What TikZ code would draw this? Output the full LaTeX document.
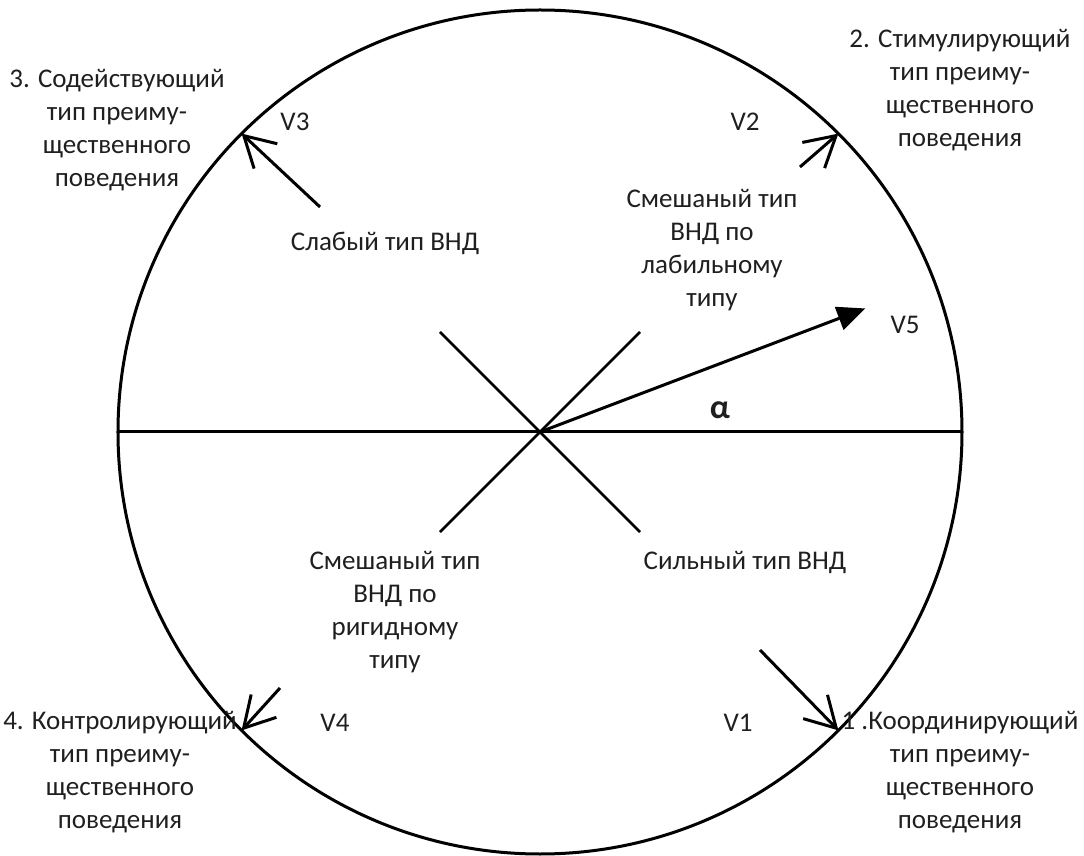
\documentclass[tikz,border=0pt]{standalone}
\usepackage{fontspec}
\setmainfont{Carlito}
\usetikzlibrary{positioning,calc,arrows.meta}

\tikzset{
  lbl/.style={align=center, inner sep=0pt, text=black!88, font=\fontsize{27}{33}\selectfont},
  vect/.style={line width=3pt, -{Straight Barb[length=30pt,width=34pt]}},
}

\begin{document}
\begin{tikzpicture}[x=1pt,y=1pt]
   \useasboundingbox (-540,-424) rectangle (544,432);
   \coordinate (centre) at (0,0);
   % circle and axis
   \draw[line width=3pt] (centre) circle (422);
   \coordinate (west) at (-422,0);
   \coordinate (east) at (422,0);
   \draw[line width=3pt] (west) -- (east);
   % cross
   \coordinate (nw) at (-100,100);
   \coordinate (se) at (100,-100);
   \coordinate (ne) at (100,100);
   \coordinate (sw) at (-100,-100);
   \draw[line width=2.6pt] (nw) -- (se);
   \draw[line width=2.6pt] (ne) -- (sw);
   % vectors
   \coordinate (v3start) at (-220,225);
   \coordinate (v3end) at (135:422);
   \coordinate (v2start) at (260,265);
   \coordinate (v2end) at (45:422);
   \coordinate (v1start) at (220,-218);
   \coordinate (v1end) at (-45:422);
   \coordinate (v4start) at (-260,-256);
   \coordinate (v4end) at (-135:422);
   \coordinate (v5end) at (20.8:348);
   \draw[vect] (v3start) -- (v3end);
   \draw[vect] (v2start) -- (v2end);
   \draw[vect] (v1start) -- (v1end);
   \draw[vect] (v4start) -- (v4end);
   \draw[line width=3pt, -{Triangle[length=28pt,width=24pt]}] (centre) -- (v5end);
   % labels
   \node[lbl] (v3) at (-245,310) {V3};
   \node[lbl] (v2) at (205,310) {V2};
   \node[lbl] (v4) at (-205,-291) {V4};
   \node[lbl] (v1) at (198,-291) {V1};
   \node[lbl] (v5) at (365,107) {V5};
   \node[lbl, font=\fontsize{34}{34}\selectfont\bfseries] (alpha) at (180,22) {α};
   \node[lbl] (weak) at (-155,189) {Слабый тип ВНД};
   \node[lbl] (labile) at (172,182) {Смешаный тип\\ВНД по\\лабильному\\типу};
   \node[lbl] (strong) at (205,-130) {Сильный тип ВНД};
   \node[lbl] (rigid) at (-145,-180) {Смешаный тип\\ВНД по\\ригидному\\типу};
   % types of behaviour
   \node[lbl] (assist) at (-423,302) {3. Содействующий\\тип преиму-\\щественного\\поведения};
   \node[lbl] (stimul) at (420,342) {2. Стимулирующий\\тип преиму-\\щественного\\поведения};
   \node[lbl] (control) at (-420,-340) {4. Контролирующий\\тип преиму-\\щественного\\поведения};
   \node[lbl] (coord) at (420,-340) {1 .Координирующий\\тип преиму-\\щественного\\поведения};
\end{tikzpicture}
\end{document}
